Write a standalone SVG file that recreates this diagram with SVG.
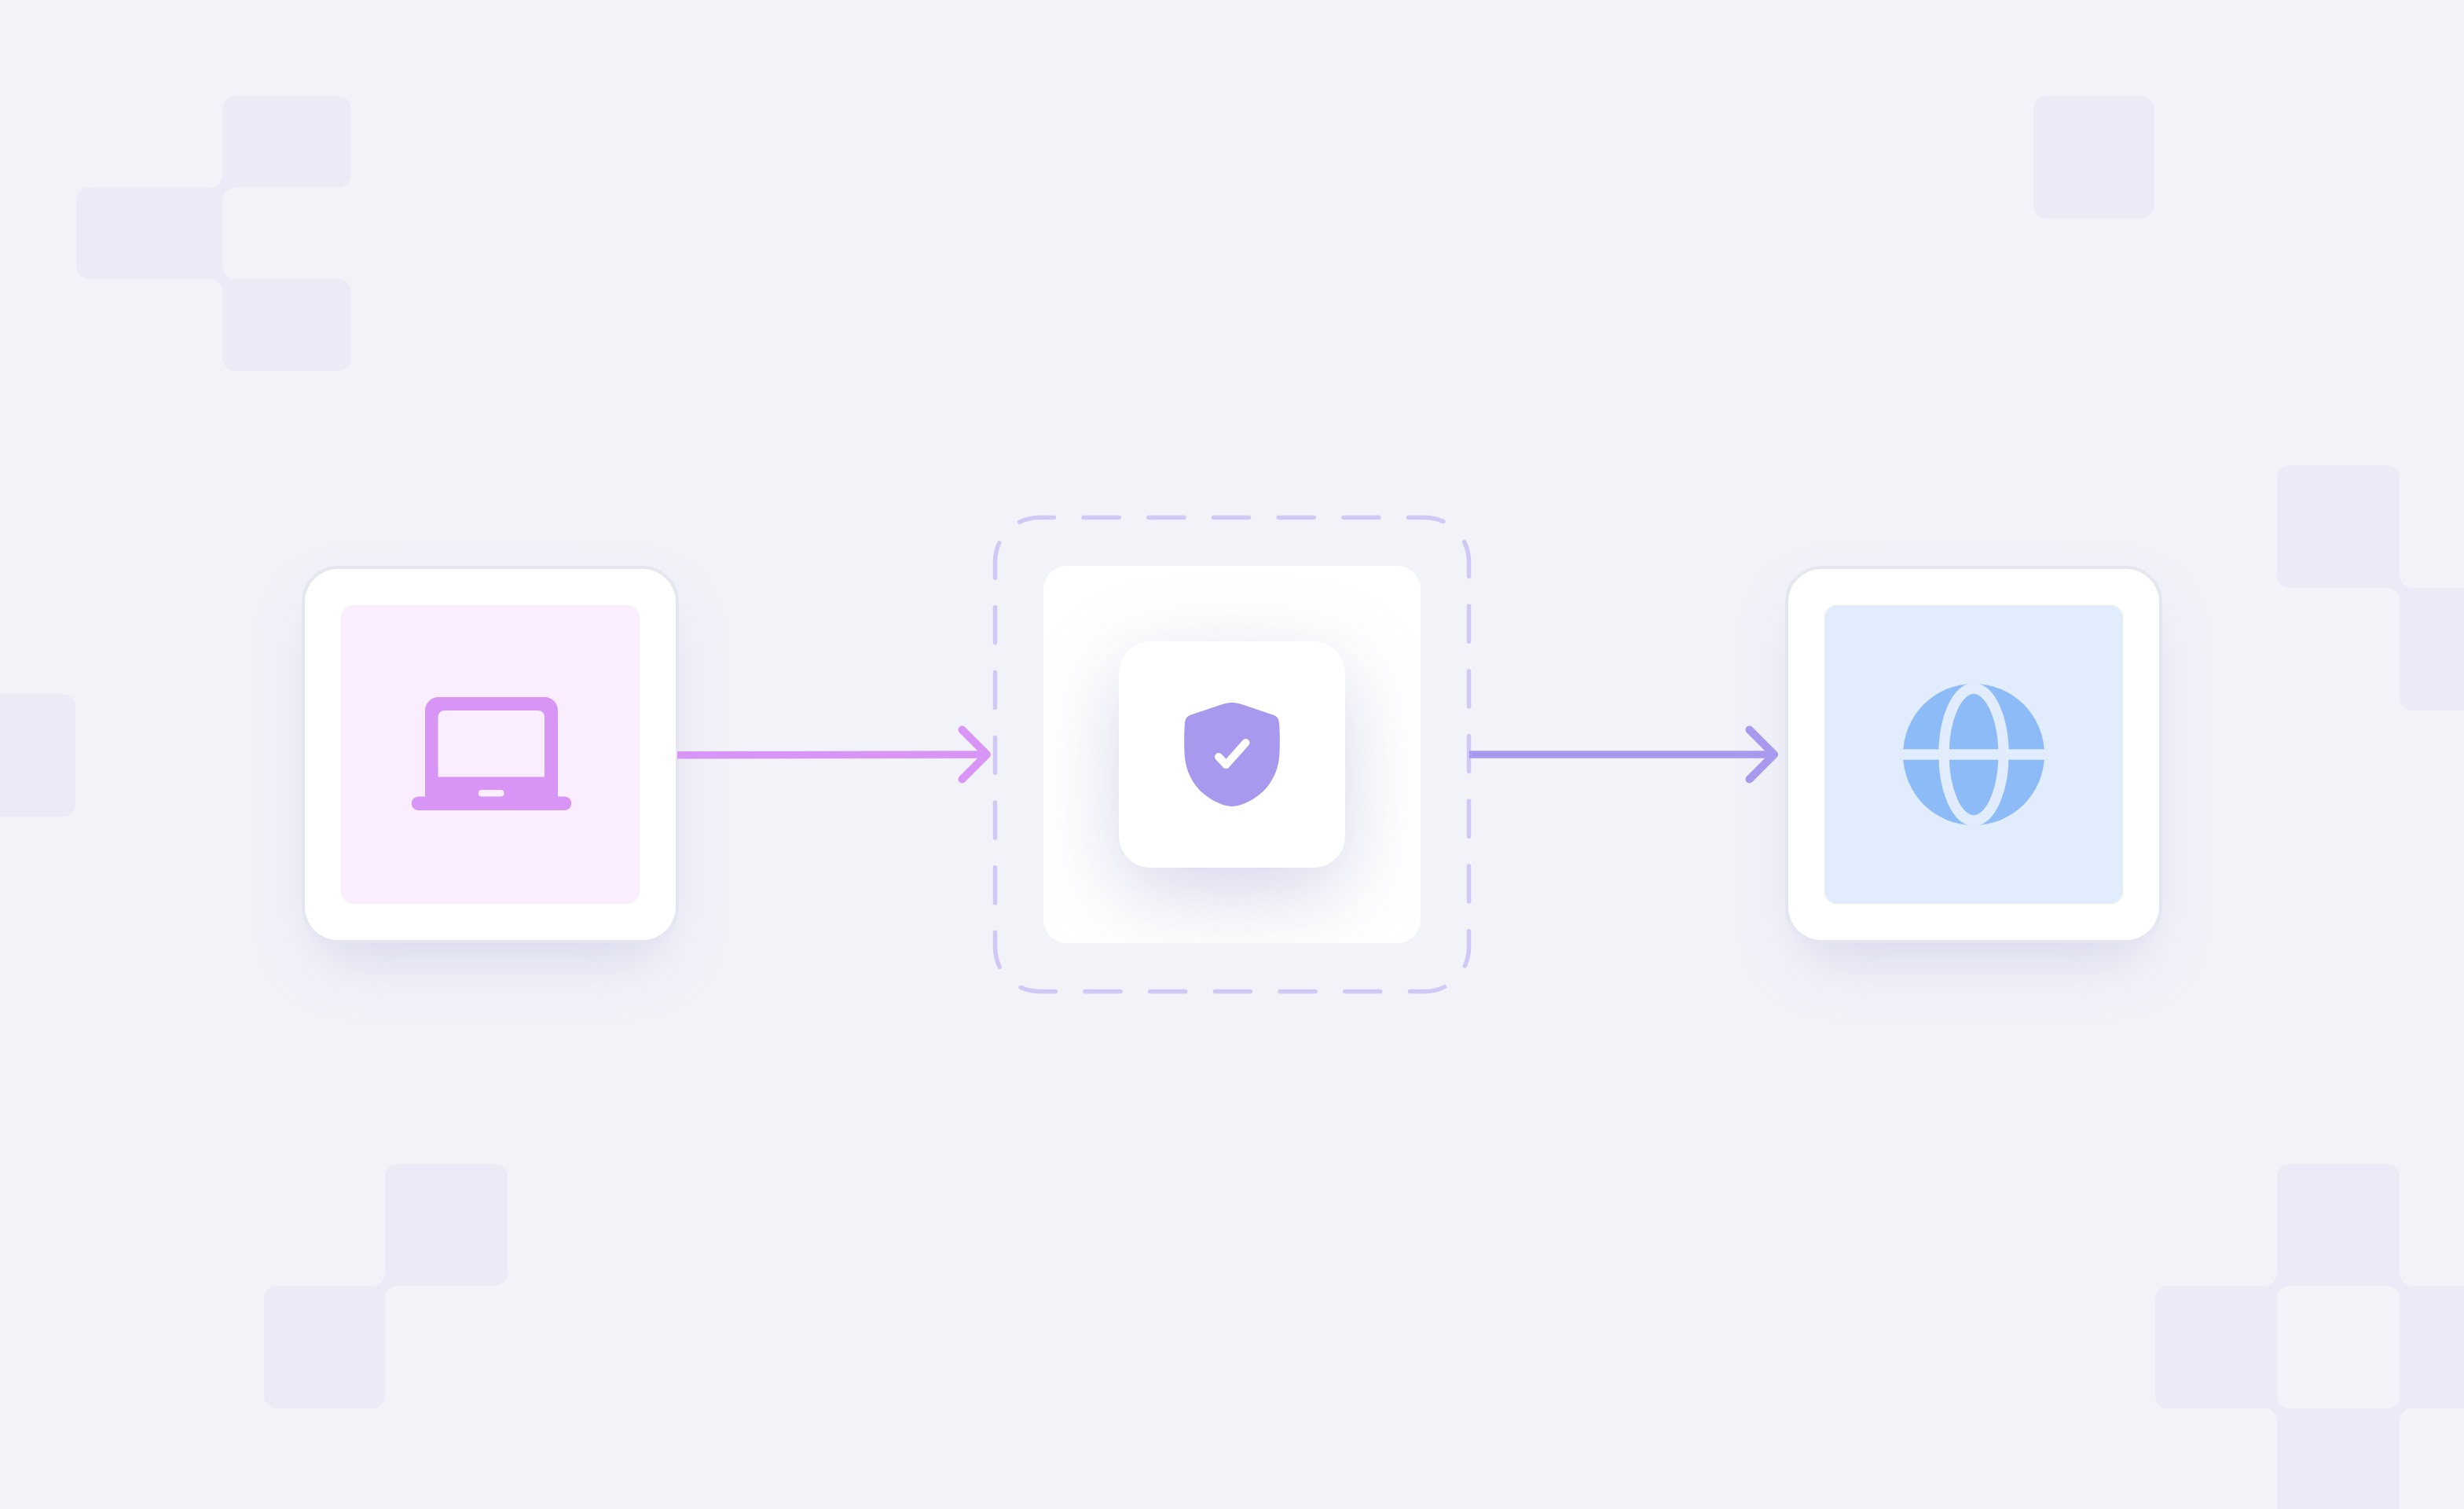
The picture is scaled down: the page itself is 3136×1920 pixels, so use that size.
<svg xmlns="http://www.w3.org/2000/svg" width="3136" height="1920" viewBox="0 0 3136 1920">
<style>
.tile{fill:#ebebf7}
.card{fill:#fff;stroke:#e6e6f2;stroke-width:4}
.arrow{fill:none;stroke-width:10;stroke-linecap:round;stroke-linejoin:round}
.shaft{fill:none;stroke-width:9.500}
</style>
<defs>
<filter id="soft" x="-40%" y="-40%" width="180%" height="180%"><feGaussianBlur stdDeviation="36"/></filter>
<filter id="softer" x="-80%" y="-80%" width="260%" height="260%"><feGaussianBlur stdDeviation="52"/></filter>
<clipPath id="centerClip"><rect x="1328" y="720" width="480" height="480" rx="30"/></clipPath>
<path id="x1" class="tile" d="M-16 0A16 16 0 0 0 0 -16L16 -16L16 0A16 16 0 0 0 0 16L-16 16Z"/>
<path id="x2" class="tile" d="M-16 -16L0 -16A16 16 0 0 0 16 0L16 16L0 16A16 16 0 0 0 -16 0Z"/>
</defs>
<rect width="3136" height="1920" fill="#f2f3f9"/>
<g id="background-tiles">
<rect class="tile" x="283.500" y="122" width="163" height="116.500" rx="16"/>
<rect class="tile" x="97" y="238.500" width="186.500" height="116.500" rx="16"/>
<rect class="tile" x="283.500" y="355" width="163" height="117" rx="16"/>
<use href="#x1" x="283.500" y="238.500"/>
<use href="#x2" x="283.500" y="355"/>
<rect class="tile" x="2588" y="122" width="154" height="156" rx="16"/>
<rect class="tile" x="2898" y="592" width="156" height="156" rx="16"/>
<rect class="tile" x="3054" y="748" width="156" height="156" rx="16"/>
<use href="#x2" x="3054" y="748"/>
<rect class="tile" x="-60" y="883" width="156" height="156" rx="16"/>
<rect class="tile" x="490" y="1481" width="156" height="155" rx="16"/>
<rect class="tile" x="336" y="1636" width="154" height="156" rx="16"/>
<use href="#x1" x="490" y="1636"/>
<rect class="tile" x="2898" y="1481" width="156" height="155" rx="16"/>
<rect class="tile" x="2743" y="1636" width="155" height="156" rx="16"/>
<rect class="tile" x="3054" y="1636" width="156" height="156" rx="16"/>
<rect class="tile" x="2898" y="1792" width="156" height="156" rx="16"/>
<use href="#x1" x="2898" y="1636"/>
<use href="#x2" x="3054" y="1636"/>
<use href="#x2" x="2898" y="1792"/>
<use href="#x1" x="3054" y="1792"/>
</g>
<g id="node-laptop">
<rect x="400" y="766" width="448" height="456" rx="40" fill="#c0c0e0" opacity="0.5" filter="url(#soft)"/>
<rect class="card" x="386" y="722" width="476" height="476" rx="44"/>
<rect x="434" y="770" width="380" height="380" rx="16" fill="#f9edfe"/>
<path fill="#d995f5" fill-rule="evenodd" d="M541 1013.500V904A17 17 0 0 1 558 887H693A17 17 0 0 1 710 904V1013.500H718.500A8.500 8.500 0 0 1 718.500 1031H532.500A8.500 8.500 0 0 1 532.500 1013.500ZM565.500 904A8 8 0 0 0 557.500 912V988.500H693V912A8 8 0 0 0 685 904ZM612.500 1005A4.300 4.300 0 0 0 612.500 1013.500H638A4.300 4.300 0 0 0 638 1005Z"/>
</g>
<g id="node-shield">
<rect x="1328" y="720" width="480" height="480" rx="30" fill="#fff"/>
<g clip-path="url(#centerClip)"><rect x="1424" y="848" width="288" height="288" rx="40" fill="#b0b0da" opacity="0.52" filter="url(#softer)"/></g>
<rect x="1424" y="816" width="288" height="288" rx="40" fill="#fff"/>
<path fill="#a899ee" d="M1568 894C1562 894 1556 896 1550 898L1516 909.500C1511 911 1508.500 914 1508 920C1507 930 1507 945 1507.500 958C1508 976 1515 994 1528.500 1007C1539.500 1017.500 1556.500 1026 1568 1026C1579.500 1026 1596.500 1017.500 1607.500 1007C1621 994 1628 976 1628.500 958C1629 945 1629 930 1628 920C1627.500 914 1625 911 1620 909.500L1586 898C1580 896 1574 894 1568 894Z"/>
<path fill="none" stroke="#fff" stroke-width="10" stroke-linecap="round" stroke-linejoin="round" d="M1551 963L1560.500 973L1585.500 945"/>
</g>
<rect id="dashed-boundary" x="1266.500" y="658.500" width="603" height="603" rx="56" fill="none" stroke="#d0c8f5" stroke-width="5.500" stroke-linecap="round" stroke-dasharray="45 37.700" stroke-dashoffset="26.070"/>
<g id="node-globe">
<rect x="2288" y="766" width="448" height="456" rx="40" fill="#c0c0e0" opacity="0.5" filter="url(#soft)"/>
<rect class="card" x="2274" y="722" width="476" height="476" rx="44"/>
<rect x="2322" y="770" width="380" height="380" rx="16" fill="#e1ecfd"/>
<circle cx="2512" cy="960" r="90" fill="#8cbbf8"/>
<ellipse cx="2512" cy="960" rx="38" ry="84" fill="none" stroke="#e1ecfd" stroke-width="13.400"/>
<rect x="2418" y="953.300" width="188" height="13.400" fill="#e1ecfd"/>
</g>
<g id="connectors">
<path class="shaft" stroke="#d995f5" d="M862 960.800L1256 960"/>
<path class="arrow" stroke="#d995f5" d="M1224.500 928.500L1256 960L1224.500 991.500"/>
<path class="shaft" stroke="#a899ee" d="M1870 960H2258"/>
<path class="arrow" stroke="#a899ee" d="M2226.500 928.500L2258 960L2226.500 991.500"/>
</g>
</svg>
